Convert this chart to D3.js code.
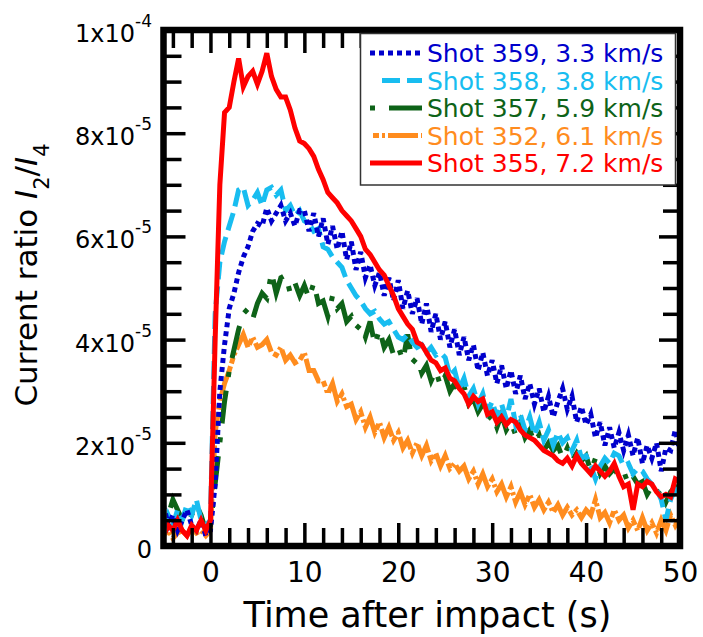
<!DOCTYPE html>
<html>
<head>
<meta charset="utf-8">
<script src="https://cdn.jsdelivr.net/npm/d3@7"></script>
<style>
  html, body { margin: 0; padding: 0; background: #fff; }
  svg { display: block; }
  text { font-family: "DejaVu Sans", sans-serif; }
</style>
</head>
<body>
<svg id="chart" width="703" height="637"></svg>
<script>
// ---- Data (current ratio in units of 1e-5), sampled every 0.5 s from -5 s to 50 s ----
const tStart = -5, tStep = 0.5;

const shot359 = [
  0.8, 0.4, 0.6, 0.3, 0.5, 0.7, 0.4, 0.3, 0.5, 0.2,
  0.3, 1.2, 3.0, 3.9, 4.6, 4.9, 5.3, 5.6, 5.8, 6.1,
  6.25, 6.2, 6.55, 6.3, 6.45, 6.6, 6.3, 6.45, 6.2, 6.5,
  6.5, 6.1, 6.45, 6.0, 6.35, 5.85, 6.2, 5.75, 6.1, 5.55,
  5.9, 5.35, 5.7, 5.2, 5.45, 5.05, 5.3, 4.85, 5.2, 4.75,
  5.15, 4.6, 4.95, 4.5, 4.8, 4.3, 4.7, 4.15, 4.5, 4.0,
  4.35, 3.85, 4.2, 3.7, 4.05, 3.6, 3.9, 3.4, 3.75, 3.3,
  3.6, 3.15, 3.5, 3.05, 3.4, 2.95, 3.3, 2.85, 3.15, 2.75,
  3.05, 2.6, 2.9, 2.5, 2.8, 3.05, 2.65, 2.9, 2.4, 2.7,
  2.35, 2.55, 2.1, 2.4, 1.95, 2.3, 1.9, 2.2, 1.85, 2.15,
  1.75, 2.1, 1.6, 1.95, 1.7, 2.0, 1.45, 1.9, 1.85, 2.25,
  1.8
];
const shot358 = [
  0.3, 0.6, 0.4, 0.7, 0.5, 0.8, 0.6, 0.9, 0.5, 0.4,
  0.5, 4.5, 5.5, 5.9, 6.2, 6.5, 6.9, 6.95, 6.6, 6.7,
  6.85, 6.6, 6.9, 6.95, 6.8, 6.9, 6.5, 6.6, 6.4, 6.5,
  6.3, 6.25, 6.1, 6.15, 5.8, 5.75, 5.6, 5.5, 5.4, 5.15,
  5.0, 4.85, 4.75, 4.6, 4.5, 4.55, 4.4, 4.3, 4.35, 4.2,
  4.05, 4.0, 4.1, 3.95, 3.85, 3.9, 3.75, 3.85, 3.7, 3.75,
  3.65, 3.3, 3.4, 3.05, 3.25, 2.9, 3.05, 2.75, 2.95, 2.6,
  2.8, 2.5, 2.75, 2.45, 2.85, 2.35, 2.55, 2.25, 2.5, 2.15,
  2.4, 2.05, 2.25, 1.95, 2.2, 2.0, 2.1, 1.85, 2.05, 1.7,
  1.75, 1.55, 1.3, 1.55, 1.7, 1.6, 1.8, 1.75, 1.55, 1.6,
  1.4, 1.5, 1.45, 1.3, 1.2, 1.1, 0.9, 0.5, 0.9, 1.1,
  1.0
];
const shot357 = [
  0.4, 0.6, 0.9, 0.7, 0.5, 0.4, 0.6, 0.8, 0.6, 0.3,
  0.4, 1.2, 2.0, 2.8, 3.4, 3.8, 4.2, 4.5, 4.6, 4.4,
  4.7, 4.9, 4.8, 5.3, 4.9, 5.2, 5.25, 4.9, 5.1, 4.85,
  5.05, 4.8, 5.1, 4.7, 4.75, 4.45, 4.85, 4.6, 4.7, 4.35,
  4.45, 4.2, 4.3, 4.05, 4.35, 3.9, 4.2, 3.85, 4.0, 3.7,
  3.85, 3.6, 4.1, 3.55, 3.65, 3.35, 3.5, 3.2, 3.4, 3.1,
  3.3, 3.0, 3.15, 2.95, 3.1, 2.75, 2.85, 2.6, 2.75, 2.45,
  2.55, 2.3, 2.55, 2.25, 2.4, 2.15, 2.4, 2.1, 2.25, 2.0,
  2.15, 1.85, 2.0, 1.85, 1.95, 1.7, 1.9, 1.65, 1.8, 1.65,
  1.75, 1.45, 1.7, 1.4, 1.55, 1.4, 1.5, 1.35, 1.45, 1.2,
  1.35, 1.2, 1.25, 1.0, 1.15, 1.0, 1.1, 0.85, 1.05, 1.15,
  1.05
];
const shot352 = [
  0.2, 0.3, 0.15, 0.25, 0.3, 0.2, 0.35, 0.25, 0.3, 0.2,
  0.3, 2.2, 2.8, 3.15, 3.4, 3.7, 3.9, 4.1, 3.85, 4.05,
  3.85, 3.9, 4.0, 3.75, 3.7, 3.85, 3.6, 3.7, 3.55, 3.6,
  3.75, 3.4, 3.4, 3.2, 3.2, 2.95, 3.15, 2.8, 2.95, 2.7,
  2.75, 2.45, 2.6, 2.3, 2.5, 2.2, 2.4, 2.1, 2.3, 2.05,
  2.2, 1.9, 2.05, 1.8, 2.0, 1.75, 1.95, 1.65, 1.8, 1.55,
  1.75, 1.5, 1.6, 1.45, 1.55, 1.3, 1.45, 1.2, 1.4, 1.15,
  1.3, 1.05, 1.2, 0.95, 1.15, 0.85, 1.05, 0.8, 1.0, 0.75,
  0.9, 0.7, 0.85, 0.65, 0.8, 0.6, 0.75, 0.6, 0.7, 0.55,
  0.7, 0.6, 0.9, 0.55, 0.65, 0.45, 0.7, 0.5, 0.6, 0.35,
  0.5, 0.3, 0.55, 0.3, 0.45, 0.25, 0.5, 0.3, 0.6, 0.4,
  0.55
];
const shot355 = [
  0.2, 0.4, 0.3, 0.5, 0.3, 0.2, 0.4, 0.3, 0.5, 0.3,
  0.5, 4.0, 7.0, 8.4, 8.5, 9.0, 9.45, 8.9, 9.1, 9.2,
  8.95, 9.2, 9.55, 9.1, 8.85, 8.7, 8.7, 8.45, 8.1, 7.85,
  7.8, 7.7, 7.55, 7.3, 7.1, 6.85, 6.75, 6.65, 6.5, 6.4,
  6.3, 6.15, 6.0, 5.75, 5.65, 5.5, 5.35, 5.25, 5.05, 4.85,
  4.6, 4.45, 4.3, 4.2, 3.95, 3.9, 3.75, 3.6, 3.55, 3.4,
  3.45, 3.25, 3.2, 3.05, 2.95, 2.75, 2.9, 2.8, 2.85, 2.55,
  2.6, 2.4, 2.5, 2.35, 2.45, 2.4, 2.25, 2.15, 2.1, 2.05,
  1.95, 1.85, 1.8, 1.75, 1.65, 1.6, 1.7, 1.55, 1.75, 1.6,
  1.5, 1.4, 1.55, 1.45, 1.35, 1.45, 1.6, 1.35, 1.15, 1.2,
  0.7, 1.2, 1.15, 1.25, 1.2, 1.05, 0.95, 1.0, 0.95, 1.3,
  1.25
];

const seriesNames  = ["Shot 359, 3.3 km/s", "Shot 358, 3.8 km/s", "Shot 357, 5.9 km/s", "Shot 352, 6.1 km/s", "Shot 355, 7.2 km/s"];
const seriesValues = [shot359, shot358, shot357, shot352, shot355];
const seriesColors = ["#0000cc", "#18bdf0", "#0e6318", "#ff8c1e", "#ff0000"];
const seriesDashes = ["5,4", "18,7", "5,14,33,14", "6,3,3,3,30,3", null];
const drawOrder = [3, 2, 1, 0, 4];

const xMajorTicks = [0, 10, 20, 30, 40, 50];
const xTickLabels = ["0", "10", "20", "30", "40", "50"];
const yMajorTicks = [0, 2, 4, 6, 8, 10];
const yTickMain = ["0", "2x10", "4x10", "6x10", "8x10", "1x10"];
const yTickExp  = ["", "-5", "-5", "-5", "-5", "-4"];

// ---- Layout ----
const svg = d3.select("#chart");
const x = d3.scaleLinear().domain([-5, 50]).range([163.5, 680]);
const y = d3.scaleLinear().domain([0, 10]).range([546, 30]);
const X0 = 163.5, X1 = 680, Y0 = 546, Y1 = 30;

const xMinorTicks = d3.range(-4, 50, 2).filter(v => v % 10 !== 0);
const yMinorTicks = d3.range(0.5, 10, 0.5).filter(v => v % 2 !== 0);

// clip
svg.append("defs").append("clipPath").attr("id", "plotclip")
  .append("rect").attr("x", X0 + 3).attr("y", Y1 + 3)
  .attr("width", X1 - X0 - 6).attr("height", Y0 - Y1 - 6);

// ---- Lines ----
const line = d3.line()
  .x((d, i) => x(tStart + i * tStep))
  .y(d => y(d));

const lines = svg.append("g").attr("clip-path", "url(#plotclip)");
drawOrder.forEach(k => {
  const p = lines.append("path")
    .datum(seriesValues[k])
    .attr("d", line)
    .attr("fill", "none")
    .attr("stroke", seriesColors[k])
    .attr("stroke-width", 5)
    .attr("stroke-linejoin", "miter")
    .attr("stroke-linecap", "butt");
  if (seriesDashes[k]) p.attr("stroke-dasharray", seriesDashes[k]);
});

// ---- Axes (ticks pointing inward) ----
function styleAxis(g) {
  g.select(".domain").remove();
  g.selectAll(".tick line").attr("stroke", "#000").attr("stroke-width", 3.5);
}
// bottom
svg.append("g").attr("transform", `translate(0,${Y0})`)
  .call(d3.axisBottom(x).tickValues(xMinorTicks).tickSize(-18).tickFormat(""))
  .call(styleAxis);
const xb = svg.append("g").attr("transform", `translate(0,${Y0})`)
  .call(d3.axisBottom(x).tickValues(xMajorTicks).tickSize(-23).tickPadding(16)
        .tickFormat((d, i) => xTickLabels[i]))
  .call(styleAxis);
xb.selectAll(".tick text").attr("font-size", 28).attr("fill", "#000")
  .attr("font-family", "DejaVu Sans");
// top
svg.append("g").attr("transform", `translate(0,${Y1})`)
  .call(d3.axisTop(x).tickValues(xMinorTicks).tickSize(-18).tickFormat(""))
  .call(styleAxis);
svg.append("g").attr("transform", `translate(0,${Y1})`)
  .call(d3.axisTop(x).tickValues(xMajorTicks).tickSize(-23).tickFormat(""))
  .call(styleAxis);
// left
svg.append("g").attr("transform", `translate(${X0},0)`)
  .call(d3.axisLeft(y).tickValues(yMinorTicks).tickSize(-18).tickFormat(""))
  .call(styleAxis);
const yl = svg.append("g").attr("transform", `translate(${X0},0)`)
  .call(d3.axisLeft(y).tickValues(yMajorTicks).tickSize(-22).tickPadding(11.5)
        .tickFormat(""))
  .call(styleAxis);
yl.selectAll(".tick text").each(function(d, i) {
  const t = d3.select(this)
    .attr("font-size", 24).attr("fill", "#000").attr("dy", "0.48em")
    .attr("font-family", "DejaVu Sans");
  t.text(null);
  t.append("tspan").text(yTickMain[i]);
  if (yTickExp[i]) {
    t.append("tspan").attr("font-size", 17).attr("dy", "-15").text(yTickExp[i]);
  }
});
// right
svg.append("g").attr("transform", `translate(${X1},0)`)
  .call(d3.axisRight(y).tickValues(yMinorTicks).tickSize(-17).tickFormat(""))
  .call(styleAxis);
svg.append("g").attr("transform", `translate(${X1},0)`)
  .call(d3.axisRight(y).tickValues(yMajorTicks).tickSize(-21).tickFormat(""))
  .call(styleAxis);

// frame
svg.append("rect")
  .attr("x", X0).attr("y", Y1).attr("width", X1 - X0).attr("height", Y0 - Y1)
  .attr("fill", "none").attr("stroke", "#000").attr("stroke-width", 6.5);

// ---- Axis titles ----
svg.append("text")
  .attr("x", 427.5).attr("y", 627)
  .attr("text-anchor", "middle").attr("font-size", 35).attr("fill", "#000")
  .text("Time after impact (s)");

const yt = svg.append("text")
  .attr("transform", "translate(37,275) rotate(-90)")
  .attr("text-anchor", "middle").attr("font-size", 31).attr("fill", "#000");
yt.append("tspan").text("Current ratio ");
yt.append("tspan").attr("font-style", "italic").text("I");
yt.append("tspan").attr("font-size", 21).attr("dy", 12).text("2");
yt.append("tspan").attr("dy", -12).text("/");
yt.append("tspan").attr("font-style", "italic").text("I");
yt.append("tspan").attr("font-size", 21).attr("dy", 12).text("4");

// ---- Legend ----
const lg = svg.append("g");
lg.append("rect")
  .attr("x", 360.5).attr("y", 33.5).attr("width", 315).attr("height", 151.5)
  .attr("fill", "#fff").attr("stroke", "#333").attr("stroke-width", 1.5);
seriesNames.forEach((name, k) => {
  const base = 62 + k * 27.5;
  const ly = base - 9;
  const startX = k === 1 ? 382 : (k === 3 ? 373 : 370);
  const seg = lg.append("line")
    .attr("x1", startX).attr("x2", 422).attr("y1", ly).attr("y2", ly)
    .attr("stroke", seriesColors[k]).attr("stroke-width", 5);
  if (seriesDashes[k]) seg.attr("stroke-dasharray", seriesDashes[k]);
  lg.append("text")
    .attr("x", 427).attr("y", base)
    .attr("font-size", 25).attr("fill", seriesColors[k])
    .text(name);
});
</script>
</body>
</html>
